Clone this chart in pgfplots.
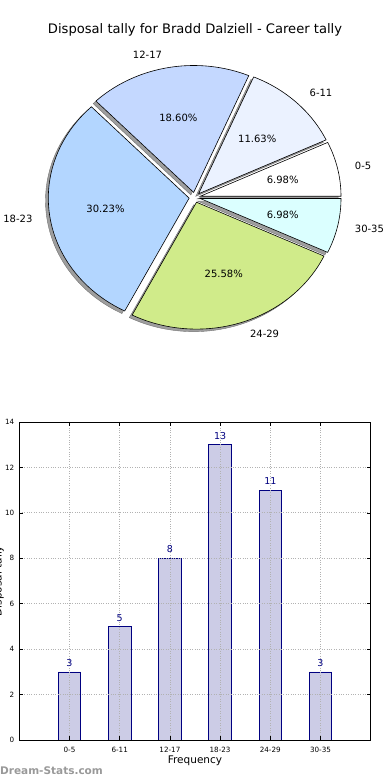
\documentclass[border=0pt]{standalone}
\usepackage{pgfplots}
\pgfplotsset{compat=1.18}
\usepackage{fontspec}
\setmainfont{DejaVu Sans}
\definecolor{cA}{RGB}{255,255,255}
\definecolor{cB}{RGB}{235,242,255}
\definecolor{cC}{RGB}{196,216,255}
\definecolor{cD}{RGB}{179,214,255}
\definecolor{cE}{RGB}{208,235,138}
\definecolor{cF}{RGB}{219,255,255}
\definecolor{barfill}{RGB}{204,204,230}
\definecolor{navy}{RGB}{0,0,128}
% start angle, end angle, mid angle, colour
\newcommand\slice[4]{%
  \addplot[draw=black, line width=0.6pt, fill=#4, variable=\t, domain=#1:#2, samples=90]
    ({0.04*cos(#3)+cos(\t)},{0.04*sin(#3)+sin(\t)}) -- ({0.04*cos(#3)},{0.04*sin(#3)}) -- cycle;}
\newcommand\shadow[3]{%
  \addplot[draw=black!55, line width=0.4pt, fill=black!38, variable=\t, domain=#1:#2, samples=90]
    ({0.04*cos(#3)-0.02+cos(\t)},{0.04*sin(#3)-0.02+sin(\t)}) -- ({0.04*cos(#3)-0.02},{0.04*sin(#3)-0.02}) -- cycle;}
\begin{document}
\begin{tikzpicture}[x=1pt,y=1pt]
\path[use as bounding box] (0,0) rectangle (390,780);
\node at (195,750) {\fontsize{13.1}{15}\selectfont Disposal tally for Bradd Dalziell - Career tally};
% ---------------- pie ----------------
\begin{axis}[at={(11.66pt,417.63pt)}, anchor=south west, x=140.8pt, y=126.9pt,
  xmin=-1.3, xmax=1.3, ymin=-1.3, ymax=1.3, hide axis, clip=false,
  every node/.style={font=\fontsize{10.7}{12}\selectfont}]
\shadow{0}{25.1163}{12.5581}
\shadow{25.1163}{66.9767}{46.0465}
\shadow{66.9767}{133.9535}{100.4651}
\shadow{133.9535}{242.7907}{188.3721}
\shadow{242.7907}{334.8837}{288.8372}
\shadow{334.8837}{360}{347.4419}
\slice{0}{25.1163}{12.5581}{cA}
\slice{25.1163}{66.9767}{46.0465}{cB}
\slice{66.9767}{133.9535}{100.4651}{cC}
\slice{133.9535}{242.7907}{188.3721}{cD}
\slice{242.7907}{334.8837}{288.8372}{cE}
\slice{334.8837}{360}{347.4419}{cF}
\node[anchor=west] at (axis cs:{1.14*cos(12.5581)},{1.14*sin(12.5581)}) {0-5};
\node[anchor=west] at (axis cs:{1.14*cos(46.0465)},{1.14*sin(46.0465)}) {6-11};
\node[anchor=east] at (axis cs:{1.14*cos(100.4651)},{1.14*sin(100.4651)}) {12-17};
\node[anchor=east] at (axis cs:{1.14*cos(188.3721)},{1.14*sin(188.3721)}) {18-23};
\node[anchor=west] at (axis cs:{1.14*cos(288.8372)},{1.14*sin(288.8372)}) {24-29};
\node[anchor=west] at (axis cs:{1.14*cos(347.4419)},{1.14*sin(347.4419)}) {30-35};
\node at (axis cs:{0.64*cos(12.5581)},{0.64*sin(12.5581)}) {6.98\%};
\node at (axis cs:{0.64*cos(46.0465)},{0.64*sin(46.0465)}) {11.63\%};
\node at (axis cs:{0.64*cos(100.4651)},{0.64*sin(100.4651)}) {18.60\%};
\node at (axis cs:{0.64*cos(188.3721)},{0.64*sin(188.3721)}) {30.23\%};
\node at (axis cs:{0.64*cos(288.8372)},{0.64*sin(288.8372)}) {25.58\%};
\node at (axis cs:{0.64*cos(347.4419)},{0.64*sin(347.4419)}) {6.98\%};
\end{axis}
% ---------------- bars ----------------
\begin{axis}[at={(19.3pt,40pt)}, anchor=south west, width=351.4pt, height=318pt, scale only axis,
  xmin=-1, xmax=6, ymin=0, ymax=14,
  xtick={0,1,2,3,4,5}, xticklabels={0-5,6-11,12-17,18-23,24-29,30-35},
  ytick={0,2,4,6,8,10,12,14},
  /pgf/number format/assume math mode=true,
  tick label style={font=\fontsize{7.2}{8}\selectfont},
  xticklabel style={yshift=-3.5pt},
  yticklabel style={xshift=-1.5pt},
  tick align=inside, major tick length=4pt,
  axis line style={line width=0.8pt},
  every tick/.style={black, line width=0.6pt},
  grid=major, grid style={dotted, black!30, line width=0.8pt},
  axis on top,
  xlabel={Frequency}, ylabel={Disposal tally},
  every axis x label/.style={at={(axis description cs:0.5,0)}, anchor=center, yshift=-21pt, font=\fontsize{10.5}{12}\selectfont},
  every axis y label/.style={at={(axis description cs:-0.04354,0.5)}, rotate=90, anchor=south, inner sep=0pt, font=\fontsize{10.5}{12}\selectfont},
  nodes near coords,
  every node near coord/.append style={font=\fontsize{9.5}{10}\selectfont, text=navy, yshift=1.5pt},
]
\addplot[ybar, bar width=0.45, fill=barfill, draw=navy, line width=0.7pt]
  coordinates {(0,3) (1,5) (2,8) (3,13) (4,11) (5,3)};
\end{axis}
\node[anchor=west, inner sep=0pt, text=black!40] at (0,9.5) {\fontsize{10.5}{12}\selectfont\bfseries Dream-Stats.com};
\end{tikzpicture}
\end{document}
